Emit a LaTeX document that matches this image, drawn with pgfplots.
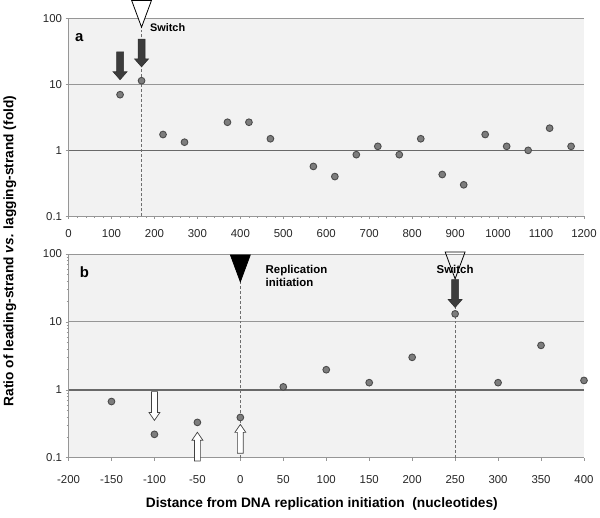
\documentclass[border=0pt]{standalone}
\usepackage{pgfplots}
\pgfplotsset{compat=1.18}
\usepackage{fontspec}
\setmainfont{Liberation Sans}
\usetikzlibrary{calc}
\definecolor{bg}{RGB}{242,242,242}
\definecolor{gridc}{RGB}{150,150,150}
\definecolor{onec}{RGB}{105,105,105}
\definecolor{ptfill}{RGB}{125,125,125}
\definecolor{ptdraw}{RGB}{75,75,75}
\definecolor{darr}{RGB}{60,60,60}
\definecolor{dashc}{RGB}{110,110,110}

% down arrow, tip at (x,y)
\newcommand{\darrow}[3]{%
  \draw[draw=#3!80!black,fill=#3,line width=0.6pt] (axis cs:#1,#2) -- ++(-7pt,8pt) -- ++(3.5pt,0pt) -- ++(0pt,20pt) -- ++(7pt,0pt) -- ++(0pt,-20pt) -- ++(3.5pt,0pt) -- cycle;}
\newcommand{\wdarrow}[2]{%
  \draw[draw=black!75,fill=white,line width=0.7pt] (axis cs:#1,#2) -- ++(-5.5pt,8pt) -- ++(2.5pt,0pt) -- ++(0pt,21pt) -- ++(6pt,0pt) -- ++(0pt,-21pt) -- ++(2.5pt,0pt) -- cycle;}
\newcommand{\wuarrow}[2]{%
  \draw[draw=black!75,fill=white,line width=0.7pt] (axis cs:#1,#2) -- ++(-5.5pt,-8pt) -- ++(2.5pt,0pt) -- ++(0pt,-21pt) -- ++(6pt,0pt) -- ++(0pt,21pt) -- ++(2.5pt,0pt) -- cycle;}
\newcommand{\tri}[3]{%
  \draw[draw=black,fill=#3,line width=0.8pt] (axis cs:#1,#2) -- ++(-10pt,27pt) -- ++(20pt,0pt) -- cycle;}

\pgfplotsset{
  mypanel/.style={
    scale only axis, ymin=0.1, ymax=100,
    ytick={0.1,1,10,100}, yticklabels={0.1,1,10,100},
    axis background/.style={fill=bg},
    axis line style={draw=gridc},
    axis x line*=bottom, axis y line*=left,
    tick align=outside, major tick length=3pt, minor tick length=2pt,
    tick style={draw=gridc},
    tick label style={font=\fontsize{11.5}{13}\selectfont, text=black!85},
    /pgf/number format/assume math mode=true,
    clip=false,
  },
  pts/.style={only marks, mark=*, mark size=3.4pt, mark options={fill=ptfill, draw=ptdraw, line width=0.9pt}},
}

\begin{document}
\begin{tikzpicture}
\path (0pt,0pt) rectangle (600pt,520pt);

% ---------- panel a ----------
\begin{axis}[ymode=log, mypanel, at={(69pt,303pt)}, anchor=south west, width=519pt, height=199pt,
  xmin=0, xmax=1200, xtick={0,100,...,1200}, minor x tick num=4,
  yminorticks=false,
  xticklabel style={yshift=-7pt},
  xticklabels={0,100,200,300,400,500,600,700,800,900,1000,1100,1200}]
\draw[gridc, line width=0.8pt] (axis cs:0,10) -- (axis cs:1200,10);
\draw[gridc, line width=0.8pt] (axis cs:0,100) -- (axis cs:1200,100);
\draw[onec, line width=1.6pt] (axis cs:0,1) -- (axis cs:1200,1);
\draw[dashc, densely dashed, line width=0.9pt] (axis cs:170,0.1) -- (axis cs:170,74);
\addplot[pts] coordinates {
(120,7.0) (170,11.4) (220,1.74) (270,1.33) (370,2.67) (420,2.67) (470,1.5)
(570,0.57) (620,0.40) (670,0.86) (720,1.15) (770,0.86) (820,1.5) (870,0.43)
(920,0.30) (970,1.74) (1020,1.15) (1070,1.0) (1120,2.17) (1170,1.15)};
\darrow{120}{11.8}{darr}
\darrow{170}{18.5}{darr}
\tri{170}{74}{white}
\node[anchor=west, font=\bfseries\fontsize{11}{13}\selectfont] at ($(axis cs:170,72)+(5pt,0pt)$) {Switch};
\node[font=\bfseries\fontsize{15}{17}\selectfont] at (axis cs:25,52) {a};
\end{axis}

% ---------- panel b ----------
\begin{axis}[ymode=log, mypanel, at={(69pt,60pt)}, anchor=south west, width=519pt, height=205pt,
  xmin=-200, xmax=400, xtick={-200,-150,...,400},
  xticklabel style={yshift=-12pt},
  xticklabels={-200,-150,-100,-50,0,50,100,150,200,250,300,350,400}]
\draw[gridc, line width=0.8pt] (axis cs:-200,10) -- (axis cs:400,10);
\draw[gridc, line width=0.8pt] (axis cs:-200,100) -- (axis cs:400,100);
\draw[onec, line width=1.6pt] (axis cs:-200,1) -- (axis cs:400,1);
\draw[dashc, densely dashed, line width=0.9pt] (axis cs:0,0.1) -- (axis cs:0,39);
\draw[dashc, densely dashed, line width=0.9pt] (axis cs:250,0.1) -- (axis cs:250,43);
\addplot[pts] coordinates {
(-150,0.67) (-100,0.22) (-50,0.33) (0,0.39) (50,1.1) (100,1.97) (150,1.27)
(200,3.0) (250,13.1) (300,1.27) (350,4.5) (400,1.37)};
\darrow{250}{16.3}{darr}
\wdarrow{-100}{0.353}
\wuarrow{-50}{0.236}
\wuarrow{0}{0.308}
\tri{0}{39}{black}
\node[font=\bfseries\fontsize{11.5}{13}\selectfont] at (axis cs:250,60) {Switch};
\tri{250}{43}{none}
\node[anchor=west, align=left, font=\bfseries\fontsize{11.5}{13}\selectfont] at ($(axis cs:0,47.7)+(22pt,0pt)$) {Replication\\initiation};
\node[font=\bfseries\fontsize{15}{17}\selectfont] at (axis cs:-181.5,54.6) {b};
\end{axis}

\node[rotate=90, font=\bfseries\fontsize{13.8}{15}\selectfont] at (10pt,268pt) {Ratio of leading-strand \textit{vs.} lagging-strand (fold)};
\node[font=\bfseries\fontsize{13.8}{15}\selectfont] at (324pt,13pt) {Distance from DNA replication initiation\ \ (nucleotides)};
\end{tikzpicture}
\end{document}
